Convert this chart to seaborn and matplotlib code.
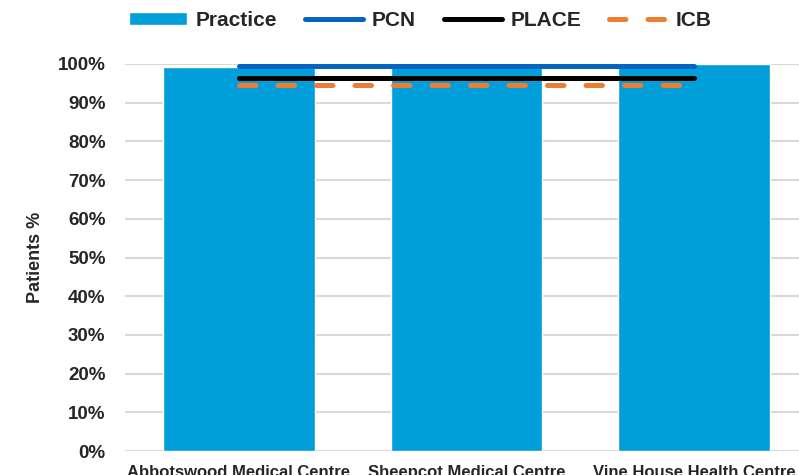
import matplotlib
matplotlib.use("Agg")
import matplotlib.pyplot as plt
from matplotlib.ticker import PercentFormatter, MultipleLocator
from matplotlib.patches import Patch
from matplotlib.lines import Line2D
import seaborn as sns
import pandas as pd

# Data

practices = ["Abbotswood Medical Centre", "Sheepcot Medical Centre", "Vine House Health Centre"]
practice_pct = [99.2, 99.7, 99.9]
pcn_pct = [99.5, 99.5, 99.5]
place_pct = [96.3, 96.3, 96.3]
icb_pct = [94.5, 94.5, 94.5]

df = pd.DataFrame({"practice": practices, "pct": practice_pct})

bar_col = "#009FDA"
pcn_col = "#0563C1"
place_col = "#000000"
icb_col = "#ED7D31"
icb_dash = (3.3, 4.4)

sns.set_style("white")
plt.rcParams["font.family"] = ["Liberation Sans", "DejaVu Sans"]
plt.rcParams["font.weight"] = "bold"

fig = plt.figure(figsize=(7.99, 4.75), dpi=100)
ax = fig.add_axes([125 / 799, 24 / 475, 683 / 799, 387 / 475])

sns.barplot(data=df, x="practice", y="pct", color=bar_col, width=0.667,
            saturation=1, ax=ax, zorder=2)

# Benchmark lines across the practices
xs = list(range(len(practices)))
ax.plot(xs, pcn_pct, color=pcn_col, lw=3.6, solid_capstyle="round", zorder=3)
ax.plot(xs, place_pct, color=place_col, lw=3.6, solid_capstyle="round", zorder=3)
ax.plot(xs, icb_pct, color=icb_col, lw=3.6, dashes=icb_dash,
        dash_capstyle="round", zorder=3)

ax.set_ylim(0, 100)
ax.set_xlim(-0.5, 2.5)
ax.yaxis.set_major_locator(MultipleLocator(10))
ax.yaxis.set_major_formatter(PercentFormatter(100, decimals=0))
ax.grid(axis="y", color="#D9D9D9", lw=1.5, zorder=0)
ax.set_axisbelow(True)
for s in ax.spines.values():
    s.set_visible(False)

ax.tick_params(axis="y", labelsize=13.5, length=0, pad=14)
ax.tick_params(axis="x", labelsize=12, length=0, pad=10)
for t in ax.get_xticklabels() + ax.get_yticklabels():
    t.set_fontweight("bold")

ax.set_xlabel("")
ax.set_ylabel("Patients %", fontsize=13, fontweight="bold", labelpad=10)

handles = [
    Patch(facecolor=bar_col, label="Practice"),
    Line2D([], [], color=pcn_col, lw=3.6, solid_capstyle="round", label="PCN"),
    Line2D([], [], color=place_col, lw=3.6, solid_capstyle="round", label="PLACE"),
    Line2D([], [], color=icb_col, lw=3.6, dashes=icb_dash, dash_capstyle="round", label="ICB"),
]
fig.legend(handles=handles, loc="upper left", bbox_to_anchor=(110 / 799, 1.017),
           ncol=4, frameon=False, handlelength=2.8, handleheight=0.55,
           columnspacing=1.35, handletextpad=0.4,
           prop={"weight": "bold", "size": 15})

plt.savefig("out.png", dpi=100)
